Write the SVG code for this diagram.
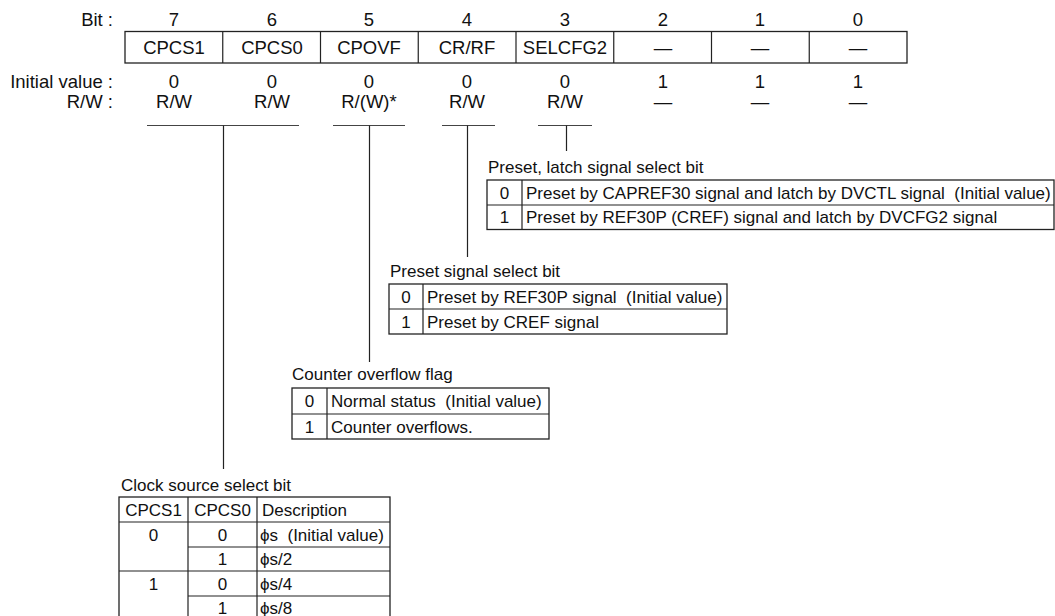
<svg xmlns="http://www.w3.org/2000/svg" width="1055" height="616" viewBox="0 0 1055 616">
<style>
text{font-family:"Liberation Sans",Arial,Helvetica,sans-serif;fill:#111;white-space:pre}
.r{font-size:18.5px}
.t{font-size:17px}
.c{text-anchor:middle}
.e{text-anchor:end}
.box{fill:#fff;stroke:#222;stroke-width:1.3}
.ln{stroke:#222;stroke-width:1.2;fill:none}
.ul{stroke:#444;stroke-width:1.2;fill:none}
</style>
<rect width="1055" height="616" fill="#fff"/>

<g id="register">
  <text class="r e" x="113" y="26">Bit :</text>
  <text class="r e" x="113" y="88">Initial value :</text>
  <text class="r e" x="113" y="108">R/W :</text>
  <g class="r c">
    <text x="174" y="26">7</text><text x="272" y="26">6</text><text x="369" y="26">5</text><text x="467" y="26">4</text>
    <text x="565" y="26">3</text><text x="663" y="26">2</text><text x="760" y="26">1</text><text x="858" y="26">0</text>
  </g>
  <rect class="box" x="125" y="31.5" width="782" height="31.5"/>
  <path class="ln" d="M222.75 31.5V63M320.5 31.5V63M418.25 31.5V63M516 31.5V63M613.75 31.5V63M711.5 31.5V63M809.25 31.5V63"/>
  <g class="r c">
    <text x="174" y="54">CPCS1</text><text x="272" y="54">CPCS0</text><text x="369" y="54">CPOVF</text><text x="467" y="54">CR/RF</text>
    <text x="565" y="54">SELCFG2</text><text x="663" y="54">—</text><text x="760" y="54">—</text><text x="858" y="54">—</text>
  </g>
  <g class="r c">
    <text x="174" y="88">0</text><text x="272" y="88">0</text><text x="369" y="88">0</text><text x="467" y="88">0</text>
    <text x="565" y="88">0</text><text x="663" y="88">1</text><text x="760" y="88">1</text><text x="858" y="88">1</text>
  </g>
  <g class="r c">
    <text x="174" y="108">R/W</text><text x="272" y="108">R/W</text><text x="369" y="108">R/(W)*</text><text x="467" y="108">R/W</text>
    <text x="565" y="108">R/W</text><text x="663" y="108">—</text><text x="760" y="108">—</text><text x="858" y="108">—</text>
  </g>
</g>

<g id="connectors">
  <path class="ul" d="M147 125.5H299M333 125.5H405M442 125.5H495M538 125.5H592"/>
  <path class="ln" d="M223.5 125.5V469M369.5 125.5V362M467.5 125.5V257M566.5 125.5V151"/>
</g>

<g id="latch-select">
  <text class="t" x="488" y="173">Preset, latch signal select bit</text>
  <rect class="box" x="487" y="180" width="567" height="49.5"/>
  <path class="ln" d="M487 205H1054M522 180V229.5"/>
  <text class="t c" x="504.5" y="198.5">0</text>
  <text class="t" x="526" y="198.5" xml:space="preserve">Preset by CAPREF30 signal and latch by DVCTL signal  (Initial value)</text>
  <text class="t c" x="504.5" y="223">1</text>
  <text class="t" x="526" y="223">Preset by REF30P (CREF) signal and latch by DVCFG2 signal</text>
</g>

<g id="preset-select">
  <text class="t" x="390" y="277">Preset signal select bit</text>
  <rect class="box" x="389" y="284" width="338" height="50"/>
  <path class="ln" d="M389 309H727M423 284V334"/>
  <text class="t c" x="406" y="302.5">0</text>
  <text class="t" x="427" y="302.5" xml:space="preserve">Preset by REF30P signal  (Initial value)</text>
  <text class="t c" x="406" y="327.5">1</text>
  <text class="t" x="427" y="327.5">Preset by CREF signal</text>
</g>

<g id="overflow-flag">
  <text class="t" x="292" y="380">Counter overflow flag</text>
  <rect class="box" x="292" y="388" width="257" height="51"/>
  <path class="ln" d="M292 414H549M327 388V439"/>
  <text class="t c" x="309.5" y="407">0</text>
  <text class="t" x="331" y="407" xml:space="preserve">Normal status  (Initial value)</text>
  <text class="t c" x="309.5" y="432.5">1</text>
  <text class="t" x="331" y="432.5">Counter overflows.</text>
</g>

<g id="clock-select">
  <text class="t" x="121" y="491">Clock source select bit</text>
  <rect class="box" x="119" y="497" width="271" height="124"/>
  <path class="ln" d="M119 522H390M119 571H390M188 547H390M188 596H390M188 497V621M257 497V621"/>
  <text class="t c" x="153.5" y="515.5">CPCS1</text>
  <text class="t c" x="222.5" y="515.5">CPCS0</text>
  <text class="t" x="262" y="515.5">Description</text>
  <text class="t c" x="153.5" y="540.5">0</text>
  <text class="t c" x="222.5" y="540.5">0</text>
  <text class="t" x="260" y="540.5" xml:space="preserve">ϕs  (Initial value)</text>
  <text class="t c" x="222.5" y="565">1</text>
  <text class="t" x="260" y="565">ϕs/2</text>
  <text class="t c" x="153.5" y="589.5">1</text>
  <text class="t c" x="222.5" y="589.5">0</text>
  <text class="t" x="260" y="589.5">ϕs/4</text>
  <text class="t c" x="222.5" y="614">1</text>
  <text class="t" x="260" y="614">ϕs/8</text>
</g>
</svg>
